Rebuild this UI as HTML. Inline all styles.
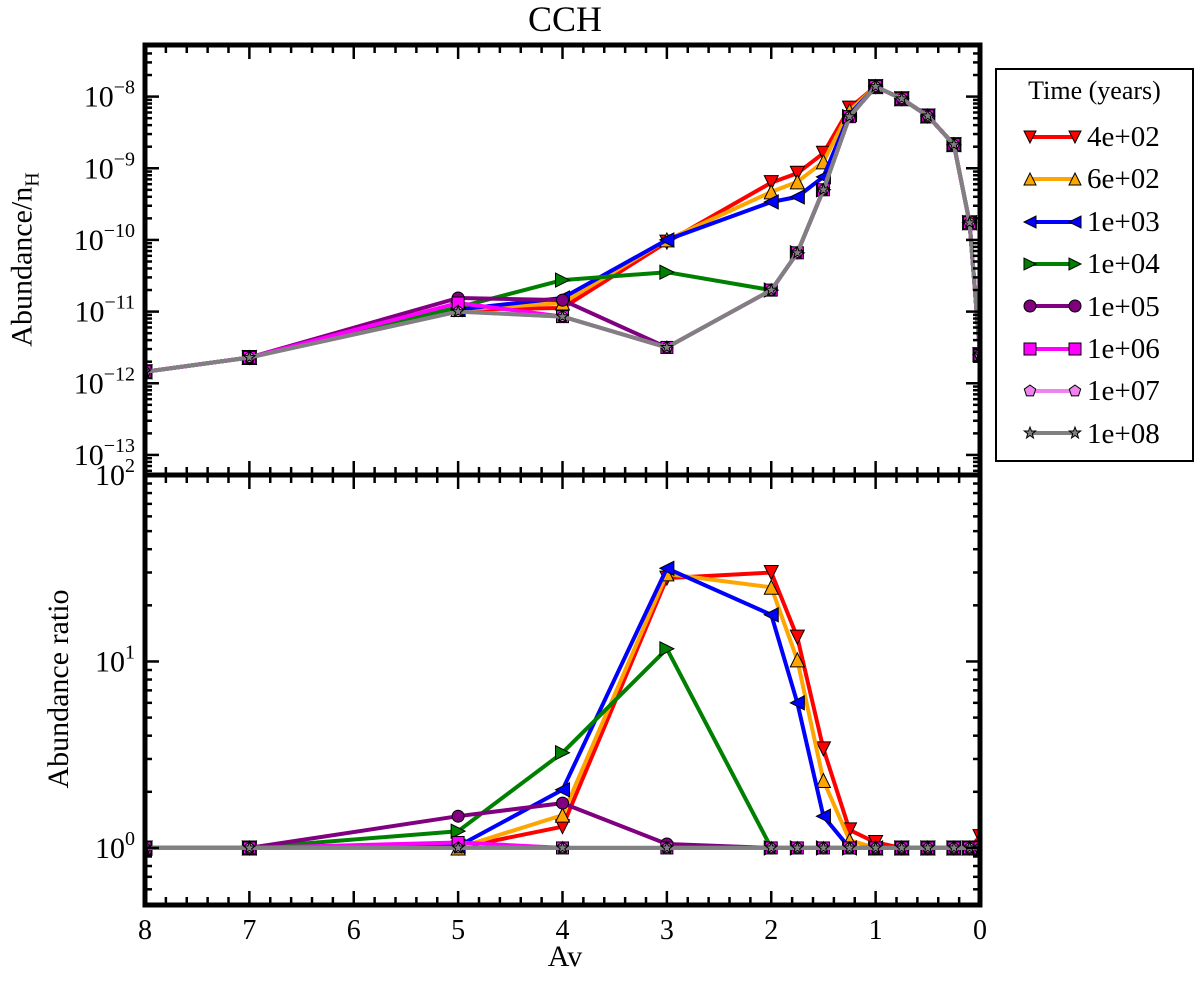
<!DOCTYPE html>
<html><head><meta charset="utf-8"><style>
html,body{margin:0;padding:0;background:#fff;}
*{font-family:"Liberation Serif","DejaVu Serif","Noto Serif CJK SC",serif;}
svg text{font-family:"Liberation Serif","DejaVu Serif","Noto Serif CJK SC",serif;}
</style></head><body>
<svg id="chart" width="1200" height="988" viewBox="0 0 1200 988" style="position:absolute;left:0;top:0"></svg>
<script>
const avValues = [8,7,5,4,3,2,1.75,1.5,1.25,1,0.75,0.5,0.25,0.1,0];
const seriesLabels = ["4e+02","6e+02","1e+03","1e+04","1e+05","1e+06","1e+07","1e+08"];
// log10 abundance / nH
const absRed    = [-11.84,-11.64,-10.97,-10.95,-10.03,-9.20,-9.07,-8.79,-8.16,-7.86,-8.03,-8.27,-8.67,-9.76,-11.6];
const absOrange = [-11.84,-11.64,-10.97,-10.88,-10.00,-9.33,-9.19,-8.91,-8.20,-7.86,-8.03,-8.27,-8.67,-9.76,-11.6];
const absBlue   = [-11.84,-11.64,-10.97,-10.81,-10.00,-9.47,-9.40,-9.12,-8.25,-7.86,-8.03,-8.27,-8.67,-9.76,-11.6];
const absGreen  = [-11.84,-11.64,-10.94,-10.56,-10.45,-10.70,-10.18,-9.30,-8.28,-7.86,-8.03,-8.27,-8.67,-9.76,-11.6];
const absPurple = [-11.84,-11.64,-10.81,-10.84,-11.50,-10.70,-10.18,-9.30,-8.28,-7.86,-8.03,-8.27,-8.67,-9.76,-11.6];
const absMagenta= [-11.84,-11.64,-10.88,-11.07,-11.50,-10.70,-10.18,-9.30,-8.28,-7.86,-8.03,-8.27,-8.67,-9.76,-11.6];
const absViolet = [-11.84,-11.64,-11.00,-11.07,-11.50,-10.70,-10.18,-9.30,-8.28,-7.86,-8.03,-8.27,-8.67,-9.76,-11.6];
const absGray   = [-11.84,-11.64,-11.00,-11.07,-11.50,-10.70,-10.18,-9.30,-8.28,-7.86,-8.03,-8.27,-8.67,-9.76,-11.6];
// abundance ratios
const ratRed    = [1,1,1,1.30,28,30,13.5,3.4,1.25,1.07,1,1,1,1,1.15];
const ratOrange = [1,1,1,1.50,29.5,25,10.2,2.3,1.10,1,1,1,1,1,1];
const ratBlue   = [1,1,1.02,2.05,31.6,17.8,6.0,1.48,1,1,1,1,1,1,1];
const ratGreen  = [1,1,1.23,3.24,11.7,1,1,1,1,1,1,1,1,1,1];
const ratPurple = [1,1,1.48,1.74,1.05,1,1,1,1,1,1,1,1,1,1];
const ratMagenta= [1,1,1.07,1,1,1,1,1,1,1,1,1,1,1,1];
const ratViolet = [1,1,1,1,1,1,1,1,1,1,1,1,1,1,1];
const ratGray   = [1,1,1,1,1,1,1,1,1,1,1,1,1,1,1];
const xTickLabels = ["8","7","6","5","4","3","2","1","0"];
const topTickExps = [-8,-9,-10,-11,-12,-13];
const botTickExps = [0,1,2];

const colors=["#ff0000","#ffa500","#0000ff","#008000","#800080","#ff00ff","#ee82ee","#808080"];
const markers=["tdown","tup","tleft","tright","circle","square","pent","star"];
const absAll=[absRed,absOrange,absBlue,absGreen,absPurple,absMagenta,absViolet,absGray];
const ratAll=[ratRed,ratOrange,ratBlue,ratGreen,ratPurple,ratMagenta,ratViolet,ratGray];
const FONT='"Liberation Serif","DejaVu Serif","Noto Serif CJK SC",serif';

const svg=document.getElementById('chart');
const NS="http://www.w3.org/2000/svg";
function mk(tag,attrs,parent){const e=document.createElementNS(NS,tag);for(const k in attrs)e.setAttribute(k,attrs[k]);(parent||svg).appendChild(e);return e;}

const L=145,R=980,T1=45,B1=475,T2=475,B2=905;
const xs=v=>L+(8-v)*(R-L)/8;
const yTop=lv=>T1+(-7.28-lv)*(B1-T1)/6;
const yBot=r=>B2-(Math.log10(r)+0.306)*(B2-T2)/2.306;

function marker(g,type,x,y,color){
  const s=7;let e;
  if(type==="circle"){e=mk('circle',{cx:x,cy:y,r:6},g);}
  else if(type==="square"){e=mk('rect',{x:x-6,y:y-6,width:12,height:12},g);}
  else{
    let pts;
    if(type==="tdown")pts=[[x-s,y-s],[x+s,y-s],[x,y+s]];
    else if(type==="tup")pts=[[x-s,y+s],[x+s,y+s],[x,y-s]];
    else if(type==="tleft")pts=[[x+s,y-s],[x+s,y+s],[x-s,y]];
    else if(type==="tright")pts=[[x-s,y-s],[x-s,y+s],[x+s,y]];
    else if(type==="pent"){pts=[];for(let i=0;i<5;i++){const a=-Math.PI/2+i*2*Math.PI/5;pts.push([x+6*Math.cos(a),y+6*Math.sin(a)]);}}
    else {pts=[];for(let i=0;i<10;i++){const a=-Math.PI/2+i*Math.PI/5;const rr=i%2?2.5:6;pts.push([x+rr*Math.cos(a),y+rr*Math.sin(a)]);}}
    e=mk('polygon',{points:pts.map(p=>p.join(',')).join(' ')},g);
  }
  e.setAttribute('fill',color);e.setAttribute('stroke','#000');e.setAttribute('stroke-width','1');
  return e;
}

function drawPanel(all,yf,name,clipId,top,bot){
  const defs=mk('defs',{});
  const cp=mk('clipPath',{id:clipId},defs);
  mk('rect',{x:L,y:top,width:R-L,height:bot-top},cp);
  const g=mk('g',{'clip-path':'url(#'+clipId+')'});
  
  
  all.forEach((arr,i)=>{
    const sg=mk('g',{},g);
    
    
    const d=arr.map((v,j)=>(j?'L':'M')+xs(avValues[j]).toFixed(1)+','+yf(v).toFixed(1)).join(' ');
    const p=mk('path',{d:d,fill:'none',stroke:colors[i],'stroke-width':4,'stroke-linejoin':'round'},sg);
    
    
    arr.forEach((v,j)=>{
      const m=marker(sg,markers[i],xs(avValues[j]),yf(v),colors[i]);
      
      
    });
  });
}

drawPanel(absAll,yTop,'abundance','c1',T1,B1);
drawPanel(ratAll,yBot,'ratio','c2',T2,B2);

function ticks(top,bot,yMajor,yMinor){
  const g=mk('g',{stroke:'#000','stroke-width':2.5});
  
  
  for(let v=0;v<=8.001;v+=0.2){
    const x=xs(v);const maj=Math.abs(v-Math.round(v))<0.01;const len=maj?14:8;
    mk('line',{x1:x,y1:bot,x2:x,y2:bot-len},g);mk('line',{x1:x,y1:top,x2:x,y2:top+len},g);
  }
  yMajor.forEach(y=>{if(y>=top&&y<=bot){mk('line',{x1:L,y1:y,x2:L+14,y2:y},g);mk('line',{x1:R,y1:y,x2:R-14,y2:y},g);}});
  yMinor.forEach(y=>{if(y>top+2&&y<bot-2){mk('line',{x1:L,y1:y,x2:L+7,y2:y},g);mk('line',{x1:R,y1:y,x2:R-7,y2:y},g);}});
  mk('rect',{x:L,y:top,width:R-L,height:bot-top,fill:'none','stroke-width':5},g);
}
let maj1=[],min1=[];
for(let e=-14;e<=-7;e++){maj1.push(yTop(e));for(let k=2;k<10;k++)min1.push(yTop(e+Math.log10(k)));}
ticks(T1,B1,maj1,min1);
let maj2=[],min2=[];
for(let e=-1;e<=2;e++){maj2.push(yBot(Math.pow(10,e)));for(let k=2;k<10;k++)min2.push(yBot(k*Math.pow(10,e)));}
ticks(T2,B2,maj2,min2);

topTickExps.forEach(e=>{
  const t=mk('text',{x:L-10,y:yTop(e)+10,'text-anchor':'end','font-size':30,'font-family':FONT});
  
  
  t.innerHTML='10<tspan dy="-13" font-size="20">\u2212'+Math.abs(e)+'</tspan>';
});
botTickExps.forEach(e=>{
  const t=mk('text',{x:L-10,y:yBot(Math.pow(10,e))+10,'text-anchor':'end','font-size':30,'font-family':FONT});
  
  
  t.innerHTML='10<tspan dy="-13" font-size="20">'+e+'</tspan>';
});
xTickLabels.forEach(s=>{
  const t=mk('text',{x:xs(+s),y:B2+34,'text-anchor':'middle','font-size':28,'font-family':FONT});
  
  
  t.textContent=s;
});
</script>
<div style="position:absolute;left:0;top:0;width:1200px;height:988px;pointer-events:none;">
  <div style="position:absolute;left:490px;top:-2px;width:150px;text-align:center;font-size:36px;">CCH</div>
  <div style="position:absolute;left:520px;top:940px;width:90px;text-align:center;font-size:30px;">Av</div>
  <div style="position:absolute;left:-110px;top:240px;width:270px;text-align:center;font-size:30px;transform:rotate(-90deg);">Abundance/n<sub style="font-size:20px">H</sub></div>
  <div style="position:absolute;left:-66px;top:672px;width:250px;text-align:center;font-size:30px;transform:rotate(-90deg);">Abundance ratio</div>
  <div style="position:absolute;left:995px;top:68px;width:199px;height:394px;border:2px solid #000;background:#fff;box-sizing:border-box;">
    <div style="position:absolute;left:0;top:6px;width:100%;text-align:center;font-size:26px;">Time (years)</div>
    <svg width="197" height="392" style="position:absolute;left:0;top:0">
      <g stroke="#000" stroke-width="1">
        <line x1="33" y1="67" x2="78" y2="67" stroke="#f00" stroke-width="4"/><polygon points="27,61 39,61 33,73" fill="#f00"/><polygon points="72,61 84,61 78,73" fill="#f00"/>
        <line x1="33" y1="109" x2="78" y2="109" stroke="#ffa500" stroke-width="4"/><polygon points="27,115 39,115 33,103" fill="#ffa500"/><polygon points="72,115 84,115 78,103" fill="#ffa500"/>
        <line x1="33" y1="152" x2="78" y2="152" stroke="#00f" stroke-width="4"/><polygon points="39,146 39,158 27,152" fill="#00f"/><polygon points="84,146 84,158 72,152" fill="#00f"/>
        <line x1="33" y1="194" x2="78" y2="194" stroke="#008000" stroke-width="4"/><polygon points="27,188 27,200 39,194" fill="#008000"/><polygon points="72,188 72,200 84,194" fill="#008000"/>
        <line x1="33" y1="236" x2="78" y2="236" stroke="#800080" stroke-width="4"/><circle cx="33" cy="236" r="6" fill="#800080"/><circle cx="78" cy="236" r="6" fill="#800080"/>
        <line x1="33" y1="279" x2="78" y2="279" stroke="#f0f" stroke-width="4"/><rect x="27" y="273" width="12" height="12" fill="#f0f"/><rect x="72" y="273" width="12" height="12" fill="#f0f"/>
        <line x1="33" y1="321" x2="78" y2="321" stroke="#ee82ee" stroke-width="4"/><polygon points="33,315 38.7,319.1 36.5,325.9 29.5,325.9 27.3,319.1" fill="#ee82ee"/><polygon points="78,315 83.7,319.1 81.5,325.9 74.5,325.9 72.3,319.1" fill="#ee82ee"/>
        <line x1="33" y1="363" x2="78" y2="363" stroke="#808080" stroke-width="4"/><polygon points="33,357 34.5,361 38.7,361 35.3,363.7 36.5,368 33,365.5 29.5,368 30.7,363.7 27.3,361 31.5,361" fill="#808080"/><polygon points="78,357 79.5,361 83.7,361 80.3,363.7 81.5,368 78,365.5 74.5,368 75.7,363.7 72.3,361 76.5,361" fill="#808080"/>
      </g>
    </svg>
    <div style="position:absolute;left:90px;top:50px;font-size:29px;line-height:34px;">
      <div style="height:42.4px">4e+02</div>
      <div style="height:42.4px">6e+02</div>
      <div style="height:42.4px">1e+03</div>
      <div style="height:42.4px">1e+04</div>
      <div style="height:42.4px">1e+05</div>
      <div style="height:42.4px">1e+06</div>
      <div style="height:42.4px">1e+07</div>
      <div style="height:42.4px">1e+08</div>
    </div>
  </div>
</div>
</body></html>
